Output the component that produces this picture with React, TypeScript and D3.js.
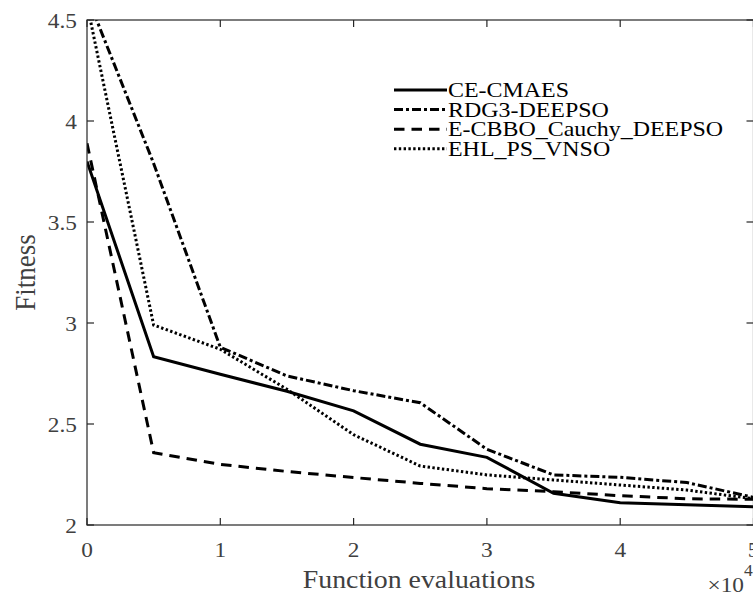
import * as d3 from 'd3';

// Function evaluations (x 10^4)
const evals = [0, 0.5, 1, 1.5, 2, 2.5, 3, 3.5, 4, 4.5, 5];

const ceCmaes = [3.8, 2.833, 2.746, 2.662, 2.565, 2.4, 2.335, 2.157, 2.11, 2.1, 2.09];
const rdg3Deepso = [4.62, 3.79, 2.88, 2.738, 2.665, 2.605, 2.375, 2.248, 2.236, 2.21, 2.137];
const ecbboDeepso = [3.89, 2.358, 2.3, 2.265, 2.235, 2.206, 2.18, 2.165, 2.145, 2.13, 2.127];
const ehlPsVnso = [4.58, 2.99, 2.87, 2.672, 2.447, 2.292, 2.248, 2.223, 2.198, 2.173, 2.13];

const xTicks = [0, 1, 2, 3, 4, 5];
const yTicks = [2, 2.5, 3, 3.5, 4, 4.5];

const series = [
    { name: 'CE-CMAES', values: ceCmaes, dash: null },
    { name: 'RDG3-DEEPSO', values: rdg3Deepso, dash: '9,3,3,3' },
    { name: 'E-CBBO_Cauchy_DEEPSO', values: ecbboDeepso, dash: '10.5,7' },
    { name: 'EHL_PS_VNSO', values: ehlPsVnso, dash: '2.4,2.4' },
];

const W = 753;
const H = 595;
const FONT = '"Liberation Serif", "Times New Roman", serif';
const AXIS = '#262626';
const LABEL = '#404040';

export default function App() {
    const left = 87, right = 753.5, top = 20, bottom = 525;
    const x = d3.scaleLinear().domain([0, 5]).range([left, right]);
    const y = d3.scaleLinear().domain([2, 4.5]).range([bottom, top]);
    const tick = 7;

    const line = d3.line<number>()
        .x((_, i) => x(evals[i]))
        .y(d => y(d));

    return (
        <svg width={W} height={H}
            style={{ position: 'absolute', left: 0, top: 0, background: '#fff' }}>
            <defs>
                <clipPath id="plot">
                    <rect x={left} y={top} width={right - left} height={bottom - top} />
                </clipPath>
            </defs>

            {/* lines */}
            <g clipPath="url(#plot)">
                {series.map(s => (
                    <path key={s.name} d={line(s.values) || ''} fill="none" stroke="#000"
                        strokeWidth={3} strokeDasharray={s.dash || undefined}
                        strokeLinejoin="miter" />
                ))}
            </g>

            {/* box */}
            <rect x={left} y={top} width={right - left} height={bottom - top}
                fill="none" stroke={AXIS} strokeWidth={1.2} />

            {/* x ticks */}
            {xTicks.map(t => (
                <g key={'x' + t}>
                    <line x1={x(t)} x2={x(t)} y1={bottom} y2={bottom - tick} stroke={AXIS} strokeWidth={1.2} />
                    <line x1={x(t)} x2={x(t)} y1={top} y2={top + tick} stroke={AXIS} strokeWidth={1.2} />
                    <text transform={`translate(${x(t)},${bottom + 32}) scale(1.06,1)`}
                        textAnchor="middle" fontFamily={FONT} fontSize={22} fill={LABEL}>{t}</text>
                </g>
            ))}

            {/* y ticks */}
            {yTicks.map(t => (
                <g key={'y' + t}>
                    <line x1={left} x2={left + tick} y1={y(t)} y2={y(t)} stroke={AXIS} strokeWidth={1.2} />
                    <line x1={right} x2={right - tick} y1={y(t)} y2={y(t)} stroke={AXIS} strokeWidth={1.2} />
                    <text transform={`translate(${left - 10},${y(t) + 7.5}) scale(1.06,1)`}
                        textAnchor="end" fontFamily={FONT} fontSize={22} fill={LABEL}>{t}</text>
                </g>
            ))}

            {/* axis labels */}
            <text transform={`translate(419,588) scale(1.07,1)`} textAnchor="middle"
                fontFamily={FONT} fontSize={26} fill={LABEL}>Function evaluations</text>
            <text transform={`translate(35,272.5) scale(1.1,1) rotate(-90)`} textAnchor="middle"
                fontFamily={FONT} fontSize={27} fill={LABEL}>Fitness</text>

            {/* exponent */}
            <text transform={`translate(744,591.5) scale(1.06,1)`} textAnchor="end"
                fontFamily={FONT} fontSize={22} fill={LABEL}>×10</text>
            <text transform={`translate(744,576) scale(1.06,1)`} textAnchor="start"
                fontFamily={FONT} fontSize={16.5} fill={LABEL}>4</text>

            {/* legend */}
            {series.map((s, i) => {
                const ly = 90 + i * 19.6;
                return (
                    <g key={'l' + s.name}>
                        <line x1={394} x2={447} y1={ly} y2={ly} stroke="#000" strokeWidth={3}
                            strokeDasharray={s.dash || undefined} />
                        <text transform={`translate(448,${ly + 7}) scale(1.14,1)`}
                            fontFamily={FONT} fontSize={21} fill="#000">{s.name}</text>
                    </g>
                );
            })}
        </svg>
    );
}
